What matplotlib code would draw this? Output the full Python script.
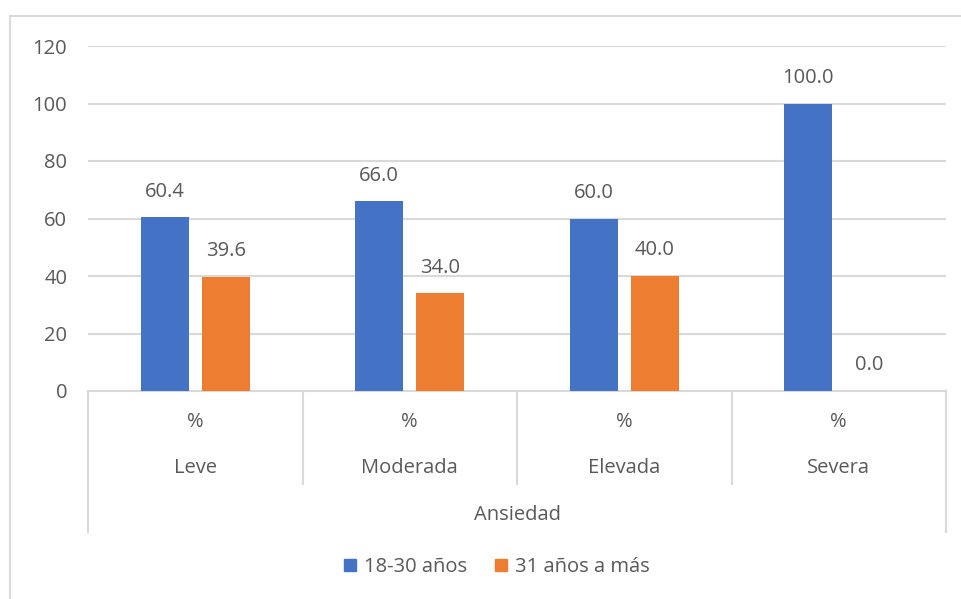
import numpy as np
import matplotlib.pyplot as plt
from matplotlib.lines import Line2D
from matplotlib.patches import Patch

plt.rcParams['font.family'] = ['Open Sans', 'DejaVu Sans']

# datos: ansiedad por grupo de edad (%)
niveles = ['Leve', 'Moderada', 'Elevada', 'Severa']
subetiqueta = '%'
titulo_eje = 'Ansiedad'
series = ['18-30 años', '31 años a más']
edad_18_30 = [60.4, 66.0, 60.0, 100.0]
edad_31_mas = [39.6, 34.0, 40.0, 0.0]
yticks = [0, 20, 40, 60, 80, 100, 120]

azul = '#4472c4'
naranja = '#ed7d31'
gris_txt = '#595959'
gris_lin = '#d9d9d9'
fs = 14.5

fig = plt.figure(figsize=(9.61, 5.99), dpi=100)
ax = fig.add_axes([88/961, 1-391/599, (946-88)/961, (391-46)/599])

x = np.arange(len(niveles))
ancho = 0.224
b1 = ax.bar(x-0.143, edad_18_30, ancho, color=azul, zorder=3)
b2 = ax.bar(x+0.143, edad_31_mas, ancho, color=naranja, zorder=3)

for barras, vals in [(b1, edad_18_30), (b2, edad_31_mas)]:
    for r, v in zip(barras, vals):
        ax.annotate(f'{v:.1f}', (r.get_x()+r.get_width()/2, v), xytext=(0, 18.5),
                    textcoords='offset points', ha='center', va='center',
                    fontsize=fs, color=gris_txt)

ax.set_xlim(-0.5, 3.5)
ax.set_ylim(0, 120)
ax.set_yticks(yticks)
ax.set_yticklabels([str(t) for t in yticks], fontsize=fs, color=gris_txt)
ax.tick_params(axis='y', length=0, pad=15)
ax.set_xticks([])
ax.grid(axis='y', color=gris_lin, lw=1.5, zorder=0)
for s in ['top', 'right', 'left']:
    ax.spines[s].set_visible(False)
ax.spines['bottom'].set_color(gris_lin)
ax.spines['bottom'].set_linewidth(1.5)

# eje de categorias en dos niveles
tr = ax.get_xaxis_transform()
for xs in [0.5, 1.5, 2.5]:
    ax.plot([xs, xs], [0, -0.27], transform=tr, color=gris_lin, lw=1.5, clip_on=False)
for xs in [-0.5, 3.5]:
    ax.plot([xs, xs], [0, -0.409], transform=tr, color=gris_lin, lw=1.5, clip_on=False)
for i, nom in enumerate(niveles):
    ax.text(i, -0.09, subetiqueta, transform=tr, ha='center', va='center',
            fontsize=fs, color=gris_txt)
    ax.text(i, -0.223, nom, transform=tr, ha='center', va='center',
            fontsize=fs, color=gris_txt)
ax.text(1.5, -0.359, titulo_eje, transform=tr, ha='center', va='center',
        fontsize=fs, color=gris_txt)

# borde del grafico
fig.add_artist(Line2D([10/961, 10/961], [0, 1-16/599], color=gris_lin, lw=1.5))
fig.add_artist(Line2D([10/961, 1], [1-16/599, 1-16/599], color=gris_lin, lw=1.5))

manijas = [Patch(color=azul), Patch(color=naranja)]
fig.legend(manijas, series, loc='center', bbox_to_anchor=(497/961, 1-567/599),
           ncol=2, frameon=False, fontsize=fs, labelcolor=gris_txt,
           handlelength=0.6, handleheight=0.6, handletextpad=0.4, columnspacing=1.4)

fig.savefig('out.png', dpi=100)
